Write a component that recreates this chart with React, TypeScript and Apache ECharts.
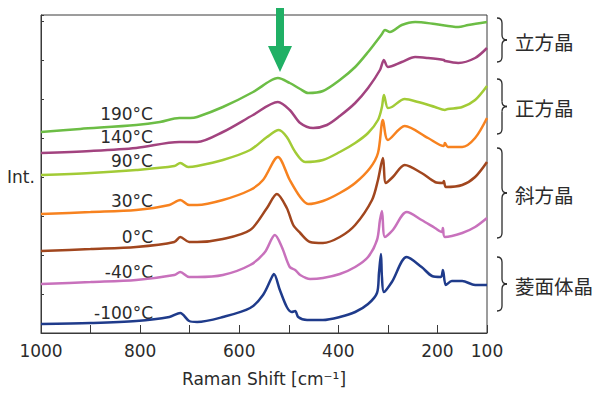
import React, { useEffect, useRef } from "react";
import * as echarts from "echarts";

// Raman shift (cm-1) vs intensity (arbitrary, offset) for each temperature
const t190: number[][] = [
  [1000, 201], [921, 204], [808, 208], [760, 211], [721, 215], [699, 215], [685, 216],
  [633, 226], [572, 241], [538, 252], [522, 255], [498, 250], [477, 244], [461, 240],
  [431, 242], [397, 253], [366, 266], [340, 281], [312, 299], [306, 303], [296, 301],
  [272, 308], [245, 311], [205, 309], [158, 306], [138, 308], [100, 311],
];
const t140: number[][] = [
  [1000, 180], [900, 182], [808, 185], [721, 191], [685, 191], [633, 201], [572, 218],
  [522, 231], [498, 223], [477, 210], [451, 205], [423, 208], [397, 217], [366, 230],
  [340, 245], [316, 263], [308, 273], [300, 266], [272, 271], [245, 276], [219, 275],
  [187, 273], [185, 272], [158, 270], [124, 275], [100, 285],
];
const t90: number[][] = [
  [1000, 158], [900, 160], [808, 163], [731, 167], [719, 170], [703, 166], [685, 167],
  [633, 173], [578, 183], [544, 196], [520, 203], [504, 196], [487, 181], [467, 171],
  [431, 173], [397, 181], [366, 190], [340, 200], [320, 213], [312, 226], [308, 238],
  [300, 225], [292, 226], [266, 234], [239, 231], [205, 226], [185, 223], [179, 224],
  [150, 226], [124, 233], [100, 247],
];
const t30: number[][] = [
  [1000, 119], [900, 121], [808, 123], [741, 128], [719, 133], [701, 128], [685, 128],
  [633, 133], [578, 143], [552, 153], [522, 176], [498, 153], [477, 136], [461, 129],
  [431, 132], [397, 140], [366, 150], [336, 165], [320, 180], [310, 213], [300, 193],
  [266, 207], [219, 195], [187, 187], [185, 190], [179, 186], [150, 186], [124, 195],
  [100, 215],
];
const t0: number[][] = [
  [1000, 82], [900, 84], [808, 86], [731, 91], [719, 96], [701, 91], [685, 91],
  [633, 94], [578, 103], [544, 125], [524, 139], [504, 125], [491, 108], [477, 100],
  [457, 91], [431, 90], [397, 96], [366, 108], [332, 133], [320, 153], [310, 175],
  [304, 150], [290, 156], [266, 168], [232, 160], [205, 151], [189, 150], [187, 152],
  [183, 146], [150, 148], [124, 156], [100, 171],
];
const tm40: number[][] = [
  [1000, 49], [900, 51], [808, 53], [731, 58], [719, 61], [701, 56], [685, 56],
  [633, 58], [578, 68], [548, 81], [528, 98], [514, 86], [498, 66], [487, 63],
  [477, 58], [457, 54], [431, 55], [397, 59], [366, 66], [340, 76], [322, 93],
  [316, 113], [312, 122], [306, 96], [290, 103], [262, 121], [232, 113], [205, 105],
  [191, 101], [189, 105], [185, 96], [150, 100], [124, 106], [100, 115],
];
const tm100: number[][] = [
  [1000, 9], [900, 10], [808, 12], [741, 16], [719, 20], [701, 12], [685, 11],
  [633, 16], [578, 25], [552, 38], [534, 56], [530, 59], [518, 43], [504, 26],
  [494, 21], [487, 22], [481, 16], [463, 13], [431, 13], [397, 16], [366, 21],
  [340, 29], [322, 40], [318, 60], [314, 79], [312, 56], [308, 41], [292, 51],
  [262, 76], [232, 66], [211, 57], [193, 56], [189, 63], [183, 48], [171, 52],
  [150, 52], [124, 48], [100, 48],
];

const seriesNames = ["190°C", "140°C", "90°C", "30°C", "0°C", "-40°C", "-100°C"];
const seriesData = [t190, t140, t90, t30, t0, tm40, tm100];
const seriesColors = ["#6cbd45", "#a2437f", "#a2cb36", "#f7821f", "#a1461e", "#c871bc", "#1f3b8b"];
const labelYs = [114, 137, 161, 201, 237, 272, 313];

const xTickLabels = [1000, 800, 600, 400, 200, 100];
const xAxisTitle = "Raman Shift [cm⁻¹]";
const yAxisTitle = "Int.";

const phaseNames = ["立方晶", "正方晶", "斜方晶", "菱面体晶"];
const braceSpans = [[18, 62], [79, 134], [148, 238], [257, 311]];

const FONT = "'DejaVu Sans', 'Noto Sans CJK JP', sans-serif";
const CJK = "'Noto Sans CJK JP', sans-serif";
const TEXT = "#2b2b2b";

function brace(y0: number, y1: number): any[] {
  const xl = 497, xm = 502, xt = 507;
  const ym = (y0 + y1) / 2;
  const st = { stroke: TEXT, lineWidth: 1.3, fill: "none" };
  const r = 5;
  return [
    { type: "bezierCurve", shape: { x1: xl, y1: y0, x2: xm, y2: y0 + r, cpx1: xm, cpy1: y0 }, style: st },
    { type: "line", shape: { x1: xm, y1: y0 + r, x2: xm, y2: ym - r }, style: st },
    { type: "bezierCurve", shape: { x1: xm, y1: ym - r, x2: xt, y2: ym, cpx1: xm, cpy1: ym }, style: st },
    { type: "bezierCurve", shape: { x1: xt, y1: ym, x2: xm, y2: ym + r, cpx1: xm, cpy1: ym }, style: st },
    { type: "line", shape: { x1: xm, y1: ym + r, x2: xm, y2: y1 - r }, style: st },
    { type: "bezierCurve", shape: { x1: xm, y1: y1 - r, x2: xl, y2: y1, cpx1: xm, cpy1: y1 }, style: st },
  ];
}

export default function App() {
  const ref = useRef<HTMLDivElement>(null);
  useEffect(() => {
    if (!ref.current) return;
    const chart = echarts.init(ref.current, null, { renderer: "svg" });
    const graphics: any[] = [];
    seriesNames.forEach((n, i) => {
      graphics.push({
        type: "text",
        x: 153,
        y: labelYs[i],
        style: { text: n, fill: TEXT, font: `17px ${FONT}`, textAlign: "right", textVerticalAlign: "middle" },
      });
    });
    braceSpans.forEach((s, i) => {
      graphics.push(...brace(s[0], s[1]));
      graphics.push({
        type: "text",
        x: 515,
        y: (s[0] + s[1]) / 2 + 1,
        style: { text: phaseNames[i], fill: TEXT, font: `19.5px ${CJK}`, textAlign: "left", textVerticalAlign: "middle" },
      });
    });
    graphics.push({
      type: "text",
      x: 21,
      y: 177,
      style: { text: yAxisTitle, fill: TEXT, font: `17px ${FONT}`, textAlign: "center", textVerticalAlign: "middle" },
    });
    graphics.push({
      type: "polygon",
      z: 100,
      shape: { points: [[276, 0], [284, 0], [284, 46], [292, 46], [280, 72], [268, 46], [276, 46]] },
      style: { fill: "#20b065" },
    });

    chart.setOption({
      animation: false,
      grid: { left: 41, right: 113, top: 15, bottom: 65, show: true, borderColor: "#3a3a3a", borderWidth: 1 },
      xAxis: {
        type: "value",
        inverse: true,
        min: 100,
        max: 1000,
        interval: 100,
        axisLine: { lineStyle: { color: "#3a3a3a" } },
        axisTick: { inside: true, length: 8, lineStyle: { color: "#3a3a3a" } },
        splitLine: { show: false },
        axisLabel: {
          color: TEXT,
          fontSize: 17,
          fontFamily: FONT,
          margin: 9,
          showMinLabel: true,
          showMaxLabel: true,
          formatter: (v: number) => (xTickLabels.includes(v) ? String(v) : ""),
        },
        name: xAxisTitle,
        nameLocation: "middle",
        nameGap: 37,
        nameTextStyle: { color: TEXT, fontSize: 17, fontFamily: FONT },
      },
      yAxis: {
        type: "value",
        min: 0,
        max: 318,
        interval: 39,
        axisLine: { show: true, lineStyle: { color: "#3a3a3a" } },
        axisTick: { show: true, inside: true, length: 3, lineStyle: { color: "#3a3a3a" } },
        axisLabel: { show: false },
        splitLine: { show: false },
      },
      series: seriesData.map((d, i) => ({
        type: "line",
        name: seriesNames[i],
        data: d,
        showSymbol: false,
        smooth: 0.3,
        lineStyle: { color: seriesColors[i], width: 2.5 },
        itemStyle: { color: seriesColors[i] },
      })),
      graphic: graphics,
    });
    return () => chart.dispose();
  }, []);
  return <div ref={ref} style={{ width: 600, height: 398, margin: -8 }} />;
}
